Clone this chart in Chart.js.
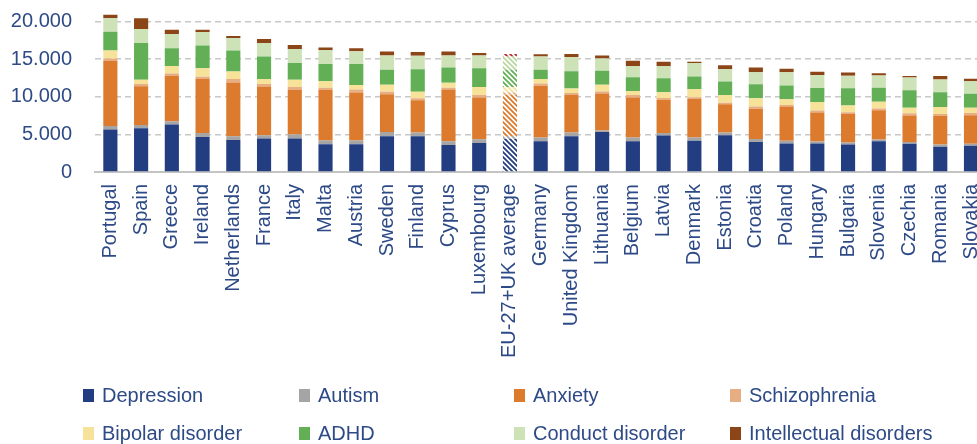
<!DOCTYPE html>
<html>
<head>
<meta charset="utf-8">
<script src="https://cdn.jsdelivr.net/npm/chart.js@4.4.0/dist/chart.umd.min.js"></script>
<style>
  html, body { margin: 0; padding: 0; background: #fff; overflow: hidden; }
  #wrap { position: relative; width: 977px; height: 444px; overflow: hidden; }
  #box { position: absolute; left: 0; top: -21px; width: 1007px; height: 391px; }
  #legend { position: absolute; left: 0; top: 0; width: 977px; height: 444px;
            font-family: "Liberation Sans", Arial, sans-serif; font-size: 20px; color: #2d4a87; }
  .item { position: absolute; display: flex; align-items: center; white-space: nowrap; }
  .sw { width: 11px; height: 13px; margin-right: 8px; }
</style>
</head>
<body>
<div id="wrap">
  <div id="box"><canvas id="chart"></canvas></div>
  <div id="legend"></div>
</div>
<script>
const countries = ["Portugal", "Spain", "Greece", "Ireland", "Netherlands", "France", "Italy", "Malta",
  "Austria", "Sweden", "Finland", "Cyprus", "Luxembourg", "EU-27+UK average", "Germany", "United Kingdom",
  "Lithuania", "Belgium", "Latvia", "Denmark", "Estonia", "Croatia", "Poland", "Hungary", "Bulgaria",
  "Slovenia", "Czechia", "Romania", "Slovakia"];

const depression   = [5650, 5800, 6300, 4650, 4250, 4450, 4450, 3700, 3700, 4750, 4750, 3600, 3850, 4400, 4100, 4750, 5300, 4100, 4850, 4150, 4900, 4000, 3800, 3800, 3650, 4100, 3750, 3350, 3500];
const autism       = [450, 450, 450, 550, 500, 450, 550, 500, 500, 550, 500, 500, 500, 400, 500, 500, 200, 500, 350, 450, 350, 400, 350, 250, 270, 220, 250, 300, 250];
const anxiety      = [8650, 5150, 6000, 7150, 7150, 6450, 5900, 6700, 6350, 5050, 4300, 6850, 5550, 5450, 6850, 5000, 4950, 5300, 4400, 5100, 3750, 4000, 4550, 3850, 3800, 3900, 3500, 3800, 3800];
const schizophrenia = [350, 300, 350, 300, 450, 350, 400, 300, 400, 300, 250, 250, 350, 300, 300, 250, 250, 350, 220, 250, 220, 300, 220, 270, 220, 220, 300, 250, 300];
const bipolar      = [1050, 550, 1000, 1150, 1000, 650, 950, 850, 600, 950, 850, 650, 1050, 750, 600, 600, 900, 500, 780, 1050, 1000, 1100, 750, 1150, 900, 900, 750, 950, 700];
const adhd         = [2500, 4900, 2350, 3000, 2800, 3000, 2250, 2300, 2800, 2000, 3000, 2050, 2500, 2300, 1250, 2300, 1850, 1850, 1870, 1700, 1800, 1870, 1820, 1850, 2300, 1850, 2300, 1950, 1850];
const conduct      = [1800, 1850, 1900, 1800, 1650, 1800, 1850, 1850, 1700, 1900, 1800, 1600, 1700, 1750, 1750, 1900, 1650, 1450, 1600, 1800, 1650, 1600, 1780, 1720, 1650, 1650, 1700, 1700, 1650];
const intellectual = [450, 1450, 550, 300, 280, 530, 530, 350, 400, 500, 500, 500, 300, 350, 300, 400, 400, 750, 580, 150, 530, 630, 450, 450, 450, 270, 200, 450, 350];

const yTicks = [0, 5000, 10000, 15000, 20000];
const yTickLabels = ["0", "5.000", "10.000", "15.000", "20.000"];

const avgIdx = countries.indexOf("EU-27+UK average");
const txt = "#2d4a87";

// diagonal stripes for the average bar
function hatch(color) {
  const c = document.createElement("canvas");
  c.width = 5; c.height = 5;
  const x = c.getContext("2d");
  x.fillStyle = "#fff";
  x.fillRect(0, 0, 5, 5);
  x.strokeStyle = color;
  x.lineWidth = 1.8;
  x.beginPath();
  x.moveTo(-1, -1); x.lineTo(6, 6);
  x.moveTo(-1, 4); x.lineTo(1, 6);
  x.moveTo(4, -1); x.lineTo(6, 1);
  x.stroke();
  return x.createPattern(c, "repeat");
}

const series = [
  ["Depression", depression, "#223d80", "#223d80"],
  ["Autism", autism, "#a5a5a5", "#a5a5a5"],
  ["Anxiety", anxiety, "#dc7b2e", "#dc7b2e"],
  ["Schizophrenia", schizophrenia, "#e6ae82", "#e6ae82"],
  ["Bipolar disorder", bipolar, "#f7e29a", "#f7e29a"],
  ["ADHD", adhd, "#62af56", "#62af56"],
  ["Conduct disorder", conduct, "#cde2b7", "#b9d89f"],
  ["Intellectual disorders", intellectual, "#8b4516", "#c0282e"]
];

const datasets = series.map(([name, vals, col, hcol]) => ({
  label: name,
  data: vals,
  backgroundColor: countries.map((c, i) => i === avgIdx ? hatch(hcol) : col),
  legendColor: col,
  borderWidth: 0,
  categoryPercentage: 1,
  barPercentage: 0.46
}));

new Chart(document.getElementById("chart"), {
  type: "bar",
  data: { labels: countries, datasets },
  options: {
    responsive: true,
    maintainAspectRatio: false,
    animation: false,
    layout: { padding: { top: 14, right: 0, bottom: 13, left: 0 } },
    plugins: { legend: { display: false }, tooltip: { enabled: false } },
    scales: {
      x: {
        stacked: true,
        afterFit: s => { s.height = 185; },
        grid: { display: false, drawTicks: false },
        border: { display: true, color: "#c4c4c4", width: 2 },
        ticks: {
          color: txt, minRotation: 90, maxRotation: 90, padding: 12, autoSkip: false,
          font: { family: "Liberation Sans", size: 20 }
        }
      },
      y: {
        stacked: true,
        min: 0,
        max: 21000,
        afterFit: s => { s.width = 95; },
        afterBuildTicks: s => { s.ticks = yTicks.map(v => ({ value: v })); },
        border: { display: false, dash: [6, 4] },
        grid: { color: "#c8c8c8", lineWidth: 1.5, drawTicks: false },
        ticks: {
          color: txt, padding: 23,
          font: { family: "Liberation Sans", size: 20 },
          callback: v => yTickLabels[yTicks.indexOf(v)]
        }
      }
    }
  }
});

// html legend, 4 columns x 2 rows
const cols = [83, 299, 514, 730];
const rows = [395, 433];
const legend = document.getElementById("legend");
datasets.forEach((d, i) => {
  const el = document.createElement("div");
  el.className = "item";
  el.style.left = cols[i % 4] + "px";
  el.style.top = (rows[Math.floor(i / 4)] - 12) + "px";
  el.style.height = "24px";
  el.innerHTML = '<span class="sw" style="background:' + d.legendColor + '"></span>' + d.label;
  legend.appendChild(el);
});
</script>
</body>
</html>
